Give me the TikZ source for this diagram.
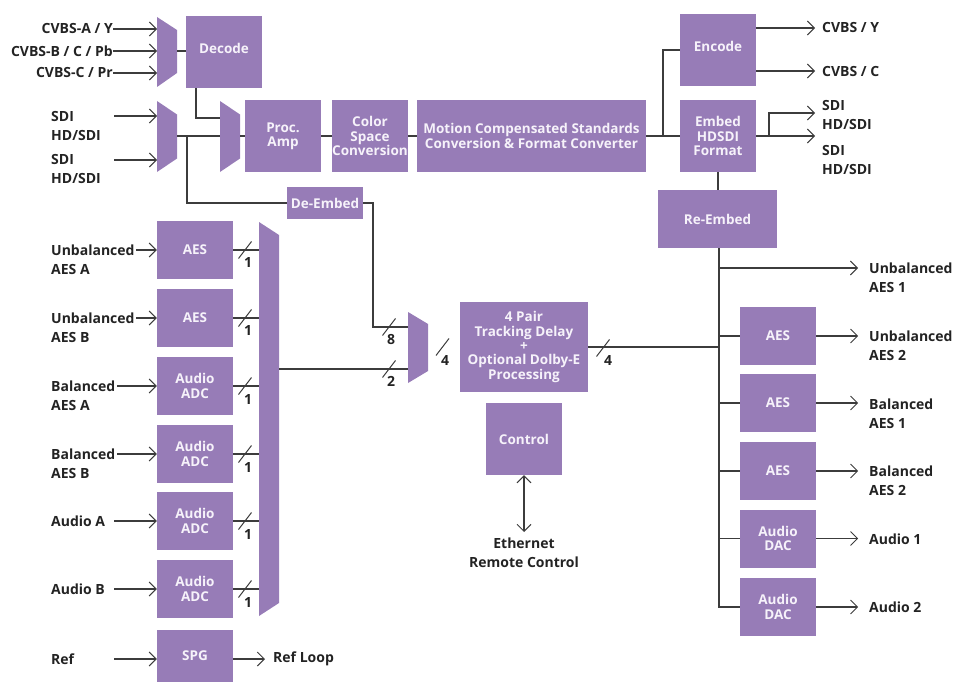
\documentclass[tikz,border=0pt]{standalone}
\usepackage{fontspec}
\setmainfont{Open Sans}
\usetikzlibrary{arrows.meta}
\definecolor{purp}{RGB}{151,124,183}
\definecolor{boxtxt}{RGB}{246,242,250}
\definecolor{ln}{RGB}{60,60,60}
\definecolor{lbl}{RGB}{35,35,35}
\newcommand\bussl[1]{\draw[sl] (#1) ++(-6.5,8.5) -- ++(13,-17);}
\newcommand\upt[1]{\raisebox{4pt}[\height][\depth]{#1}}
\begin{document}
\begin{tikzpicture}[x=1pt,y=-1pt,
  blk/.style={fill=purp, text=boxtxt, font=\bfseries\fontsize{13.5}{14.3}\selectfont, align=center, inner sep=0pt, minimum width=76pt, minimum height=72pt},
  lab/.style={text=lbl, font=\bfseries\fontsize{14}{19}\selectfont, align=left, inner sep=0pt},
  wire/.style={draw=ln, line width=1.05pt},
  arr/.style={wire, -{Straight Barb[length=7pt,width=14pt,line width=0.95pt]}},
  num/.style={text=lbl, font=\bfseries\fontsize{14}{14}\selectfont, inner sep=0pt},
  sl/.style={draw=ln, line width=1pt}]
\useasboundingbox (0,0) rectangle (966,682);

% ---------- muxes ----------
\fill[purp] (157,17) -- (177,30) -- (177,73) -- (157,87) -- cycle;
\fill[purp] (157,101) -- (177,114.5) -- (177,158.5) -- (157,172) -- cycle;
\fill[purp] (220,101) -- (240,114.5) -- (240,158.5) -- (220,172) -- cycle;
\fill[purp] (408,312) -- (428,324) -- (428,371) -- (408,383) -- cycle;
\fill[purp] (259,222) -- (279,235) -- (279,603) -- (259,616) -- cycle;
\coordinate (m1a) at (157,29);
\coordinate (m1b) at (157,51);
\coordinate (m1c) at (157,73);
\coordinate (m1o) at (177,51);
\coordinate (m2a) at (157,116);
\coordinate (m2b) at (157,160);
\coordinate (m2o) at (177,136);
\coordinate (m3a) at (220,118);
\coordinate (m3b) at (220,136);
\coordinate (m3o) at (240,136);
\coordinate (m4a) at (408,327);
\coordinate (m4b) at (408,369);
\coordinate (bmL) at (259,300);
\coordinate (bmo) at (279,369);

% ---------- video boxes ----------
\node[blk] (decode) at (224,52) {\upt{Decode}};
\node[blk] (procamp) at (283,136) {Proc.\\Amp};
\node[blk] (csc) at (370,136) {Color\\Space\\Conversion};
\node[blk, minimum width=229pt] (motion) at (531.5,136) {Motion Compensated Standards\\Conversion \& Format Converter};
\node[blk] (encode) at (718,50) {\upt{Encode}};
\node[blk] (embed) at (718,136) {Embed\\HDSDI\\Format};
\node[blk, minimum width=119pt, minimum height=58pt] (reembed) at (717.5,219) {Re-Embed};
\node[blk, minimum height=32pt] (deembed) at (325,203) {De-Embed};
\node[blk, minimum width=128pt, minimum height=90pt] (pair) at (524,347) {4 Pair\\Tracking Delay\\+\\Optional Dolby-E\\Processing};
\node[blk] (control) at (524,439) {Control};

% ---------- audio input boxes ----------
\node[blk, minimum height=58pt] (aesA) at (195,250) {AES};
\node[blk, minimum height=58pt] (aesB) at (195,318) {AES};
\node[blk, minimum height=58pt] (adcA) at (195,386) {Audio\\ADC};
\node[blk, minimum height=58pt] (adcB) at (195,454) {Audio\\ADC};
\node[blk, minimum height=58pt] (adc1) at (195,521) {Audio\\ADC};
\node[blk, minimum height=58pt] (adc2) at (195,589) {Audio\\ADC};
\node[blk, minimum height=52pt] (spg) at (195,656) {SPG};

% ---------- audio output boxes ----------
\node[blk, minimum height=58pt] (oaes2) at (778,336) {AES};
\node[blk, minimum height=58pt] (oaesb1) at (778,403) {AES};
\node[blk, minimum height=58pt] (oaesb2) at (778,471) {AES};
\node[blk, minimum height=58pt] (dac1) at (778,538.5) {Audio\\DAC};
\node[blk, minimum height=58pt] (dac2) at (778,607) {Audio\\DAC};

% ---------- left labels ----------
\node[lab, anchor=east] (lcvA) at (113,29) {CVBS-A / Y};
\node[lab, anchor=east] (lcvB) at (113,51) {CVBS-B / C / Pb};
\node[lab, anchor=east] (lcvC) at (113,73) {CVBS-C / Pr};
\node[lab, anchor=west] (lsdi1) at (51,125.5) {SDI\\HD/SDI};
\node[lab, anchor=west] (lsdi2) at (51,169) {SDI\\HD/SDI};
\node[lab, anchor=west] (luA) at (51,259.5) {Unbalanced\\AES A};
\node[lab, anchor=west] (luB) at (51,327.5) {Unbalanced\\AES B};
\node[lab, anchor=west] (lbA) at (51,395.5) {Balanced\\AES A};
\node[lab, anchor=west] (lbB) at (51,463.5) {Balanced\\AES B};
\node[lab, anchor=west] (laA) at (51,521) {Audio A};
\node[lab, anchor=west] (laB) at (51,589) {Audio B};
\node[lab, anchor=west] (lref) at (51,659) {Ref};
\node[lab, anchor=west] (lrefl) at (273,659) {Ref Loop};

% ---------- right labels ----------
\node[lab, anchor=west] (lcy) at (822,28) {CVBS / Y};
\node[lab, anchor=west] (lcc) at (822,71) {CVBS / C};
\node[lab, anchor=west] (losdi1) at (822,114.5) {SDI\\HD/SDI};
\node[lab, anchor=west] (losdi2) at (822,160) {SDI\\HD/SDI};
\node[lab, anchor=west] (lou1) at (869,277.5) {Unbalanced\\AES 1};
\node[lab, anchor=west] (lou2) at (869,345.5) {Unbalanced\\AES 2};
\node[lab, anchor=west] (lob1) at (869,413.5) {Balanced\\AES 1};
\node[lab, anchor=west] (lob2) at (869,480.5) {Balanced\\AES 2};
\node[lab, anchor=west] (loa1) at (869,539) {Audio 1};
\node[lab, anchor=west] (loa2) at (869,607) {Audio 2};
\node[lab, align=center, anchor=north] (eth) at (524,538) {Ethernet\\Remote Control};

% ---------- input arrows ----------
\draw[arr] (lcvA.east) -- (m1a);
\draw[arr] (lcvB.east) -- (m1b);
\draw[arr] (lcvC.east) -- (m1c);
\coordinate (s1) at (114,116);
\coordinate (s2) at (114,160);
\draw[arr] (s1) -- (m2a);
\draw[arr] (s2) -- (m2b);
\coordinate (iuA) at (136,250);
\coordinate (iuB) at (136,318);
\coordinate (ibA) at (117,386);
\coordinate (ibB) at (117,454);
\coordinate (iaA) at (114,521);
\coordinate (iaB) at (114,589);
\coordinate (iref) at (114,659);
\draw[arr] (iuA) -- (iuA -| aesA.west);
\draw[arr] (iuB) -- (iuB -| aesB.west);
\draw[arr] (ibA) -- (ibA -| adcA.west);
\draw[arr] (ibB) -- (ibB -| adcB.west);
\draw[arr] (iaA) -- (iaA -| adc1.west);
\draw[arr] (iaB) -- (iaB -| adc2.west);
\draw[arr] (iref) -- (iref -| spg.west);
\coordinate (refo) at (265,659);
\draw[arr] (spg.east |- refo) -- (refo);

% ---------- video path ----------
\coordinate (dcb) at (196,88);
\draw[wire] (m1o) -- (m1o -| decode.west);
\draw[wire] (dcb) -- (196,118) -- (m3a);
\draw[wire] (m2o) -- (m3b);
\draw[wire] (187,136) -- (187,203) -- (deembed.west);
\draw[wire] (m3o) -- (procamp.west);
\draw[wire] (procamp.east) -- (csc.west);
\draw[wire] (csc.east) -- (motion.west);
\draw[wire] (motion.east) -- (embed.west);
\draw[wire] (663,136) -- (663,50) -- (encode.west);
\coordinate (ocy) at (815,28);
\coordinate (occ) at (815,71);
\coordinate (os1) at (815,113);
\coordinate (os2) at (815,136);
\draw[arr] (ocy -| encode.east) -- (ocy);
\draw[arr] (occ -| encode.east) -- (occ);
\draw[arr] (embed.east) -- (os2);
\draw[arr] (769,136) -- (769,113) -- (os1);
\draw[wire] (embed.south) -- (reembed.north -| embed.south);

% ---------- audio path ----------
\draw[wire] (deembed.east) -- (373,203) -- (373,327) -- (m4a);
\draw[wire] (bmo) -- (m4b);
\foreach \b in {aesA,aesB,adcA,adcB,adc1,adc2}{
  \draw[wire] (\b.east) -- (\b.east -| bmL);
}
\foreach \y in {250,318,386,454,521,589}{
  \bussl{245,\y}
}
\coordinate (bus) at (719,607);
\draw[wire] (reembed.south -| bus) -- (bus) -- (dac2.west);
\draw[wire] (pair.east) -- (pair.east -| bus);
\coordinate (ou1) at (858,268);
\draw[arr] (719,268) -- (ou1);
\foreach \b in {oaes2,oaesb1,oaesb2,dac1}{
  \draw[wire] (\b.west -| bus) -- (\b.west);
}
\foreach \b in {oaes2,oaesb1,oaesb2,dac1,dac2}{
  \draw[arr] (\b.east) -- ++(42,0);
}
\draw[wire, {Straight Barb[length=7pt,width=14pt,line width=0.95pt]}-{Straight Barb[length=7pt,width=14pt,line width=0.95pt]}] (control.south) -- (524,532);

% ---------- bus widths ----------
\node[num] (n1) at (248,263) {1};
\node[num] (n2) at (248,331) {1};
\node[num] (n3) at (248,399) {1};
\node[num] (n4) at (248,467) {1};
\node[num] (n5) at (248,534) {1};
\node[num] (n6) at (248,602) {1};
\bussl{389,327}
\node[num] (n8) at (391,340) {8};
\bussl{389,369}
\node[num] (n2b) at (391,381) {2};
\bussl{442.5,347}
\node[num] (n4a) at (445,360) {4};
\bussl{603,348}
\node[num] (n4b) at (608,360) {4};
\end{tikzpicture}
\end{document}
